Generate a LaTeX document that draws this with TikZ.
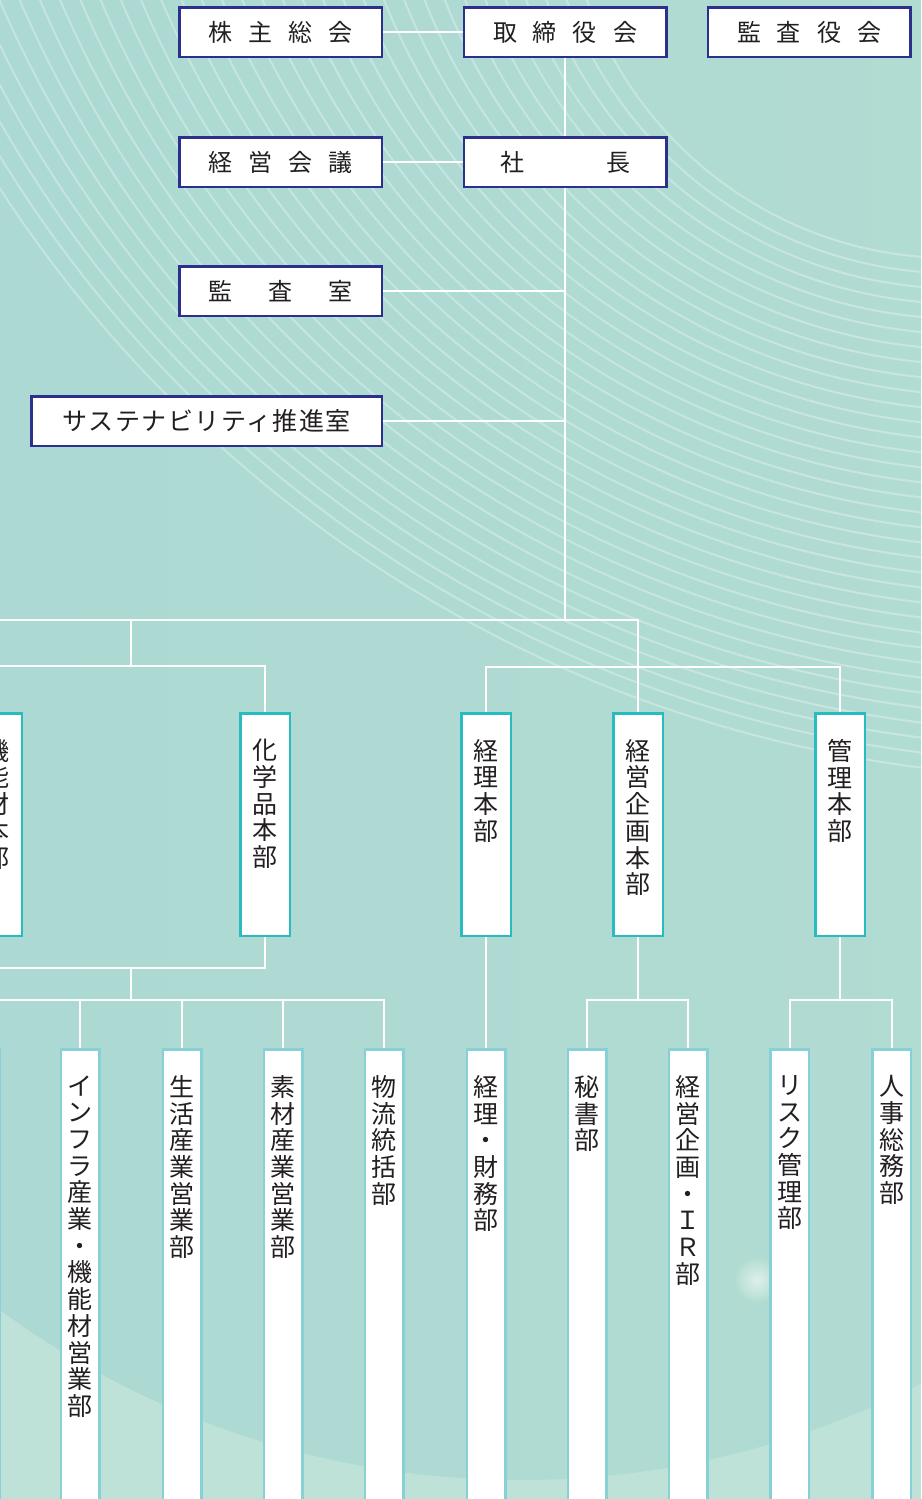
\documentclass[tikz,border=0pt]{standalone}
\usepackage{fontspec}
\setmainfont{Noto Sans CJK JP}
\definecolor{navy}{RGB}{44,48,140}
\definecolor{tealA}{RGB}{40,188,193}
\definecolor{tealB}{RGB}{134,208,214}
\definecolor{bgA}{RGB}{170,216,211}
\definecolor{bgB}{RGB}{180,221,210}
\definecolor{bgL}{RGB}{190,226,216}
\definecolor{ink}{RGB}{35,31,32}
\newcommand\jgap[1]{\hspace{#1pt}}
\tikzset{
 topbox/.style={draw=navy, line width=2.5pt, fill=white, minimum width=202.5pt, minimum height=49.5pt, inner sep=0pt, text=ink, font=\fontsize{24pt}{28pt}\selectfont},
 hqbox/.style={draw=tealA, line width=2.5pt, fill=white, minimum width=49.5pt, minimum height=222.5pt, inner sep=0pt},
 deptbox/.style={draw=tealB, line width=2.5pt, fill=white, minimum width=38.5pt, minimum height=520pt, inner sep=0pt, anchor=north},
 vlabel/.style={anchor=north, align=center, inner sep=0pt, text=ink, yshift=-27pt, font=\fontsize{25pt}{26.7pt}\selectfont},
 conn/.style={draw=white, line width=2pt},
 arcline/.style={draw=white, draw opacity=0.3, line width=2pt},
}
\begin{document}
\begin{tikzpicture}[x=1pt,y=-1pt]
\useasboundingbox (0,0) rectangle (921,1499);
\begin{scope}
\clip (0,0) rectangle (921,1499);
% background
\fill[bgL] (0,0) rectangle (921,1499);
\shade[left color=bgA, right color=bgB] (520,600) circle[radius=880pt];
\shade[inner color=white!55!bgB, outer color=bgB] (757,1280) circle[radius=22pt];
\foreach \i in {0,...,34}{
  \pgfmathsetmacro\t{\i/34}
  \pgfmathsetmacro\cx{952+134*\t}
  \pgfmathsetmacro\cy{-129-388*\t}
  \pgfmathsetmacro\rr{387+908*\t}
  \draw[arcline] (\cx,\cy) circle[radius=\rr pt];
}
% top boxes
\node[topbox] (kabunushi) at (280.5,32) {株\jgap{16}主\jgap{16}総\jgap{16}会};
\node[topbox] (torishimari) at (565,32) {取\jgap{16}締\jgap{16}役\jgap{16}会};
\node[topbox] (kansayaku) at (809,32) {監\jgap{16}査\jgap{16}役\jgap{16}会};
\node[topbox] (keieikaigi) at (280.5,162) {経\jgap{16}営\jgap{16}会\jgap{16}議};
\node[topbox] (shacho) at (565,162) {社\jgap{82}長};
\node[topbox] (kansa) at (280.5,291) {監\jgap{36}査\jgap{36}室};
\node[topbox, minimum width=350.5pt, font=\fontsize{25pt}{28pt}\selectfont\addfontfeatures{LetterSpace=6}] (sustain) at (206.5,421) {サステナビリティ推進室};
% headquarters
\node[hqbox, label={[vlabel]north:{機\\能\\材\\本\\部}}] (kinou) at (-3,824.5) {};
\node[hqbox, label={[vlabel]north:{化\\学\\品\\本\\部}}] (kagaku) at (265,824.5) {};
\node[hqbox, label={[vlabel]north:{経\\理\\本\\部}}] (keiri) at (486,824.5) {};
\node[hqbox, label={[vlabel]north:{経\\営\\企\\画\\本\\部}}] (keikaku) at (638,824.5) {};
\node[hqbox, label={[vlabel]north:{管\\理\\本\\部}}] (kanri) at (840,824.5) {};
% departments
\node[deptbox] (d0) at (-20,1048.25) {};
\node[deptbox, label={[vlabel]north:{イ\\ン\\フ\\ラ\\産\\業\\・\\機\\能\\材\\営\\業\\部}}] (infra) at (80,1048.25) {};
\node[deptbox, label={[vlabel]north:{生\\活\\産\\業\\営\\業\\部}}] (seikatsu) at (182,1048.25) {};
\node[deptbox, label={[vlabel]north:{素\\材\\産\\業\\営\\業\\部}}] (sozai) at (283,1048.25) {};
\node[deptbox, label={[vlabel]north:{物\\流\\統\\括\\部}}] (butsuryu) at (384,1048.25) {};
\node[deptbox, label={[vlabel]north:{経\\理\\・\\財\\務\\部}}] (zaimu) at (486,1048.25) {};
\node[deptbox, label={[vlabel]north:{秘\\書\\部}}] (hisho) at (587,1048.25) {};
\node[deptbox, label={[vlabel]north:{経\\営\\企\\画\\・\\Ｉ\\Ｒ\\部}}] (ir) at (688,1048.25) {};
\node[deptbox, label={[vlabel]north:{リ\\ス\\ク\\管\\理\\部}}] (risk) at (789.5,1048.25) {};
\node[deptbox, label={[vlabel]north:{人\\事\\総\\務\\部}}] (jinji) at (891.5,1048.25) {};
% coordinates
\coordinate (hub) at (565,620);
\coordinate (farleft) at (-40,620);
\coordinate (j1) at (131,620);
\coordinate (leftbar) at (131,666);
\coordinate (rightbar) at (638,667);
\coordinate (lbar1) at (131,968);
\coordinate (lbar2) at (131,1000);
\coordinate (kbar) at (638,1000);
\coordinate (mbar) at (840,1000);
% connectors
\draw[conn] (kabunushi) -- (torishimari);
\draw[conn] (torishimari) -- (shacho);
\draw[conn] (keieikaigi) -- (shacho);
\draw[conn] (shacho) -- (hub);
\draw[conn] (kansa.east) -- (kansa.east -| shacho.south);
\draw[conn] (sustain.east) -- (sustain.east -| shacho.south);
\draw[conn] (farleft) -| (keikaku.north);
\draw[conn] (j1) -- (leftbar);
\draw[conn] (kinou.north) |- (leftbar) -| (kagaku.north);
\draw[conn] (keiri.north) |- (rightbar) -| (kanri.north);
\draw[conn] (kinou.south) |- (lbar1) -| (kagaku.south);
\draw[conn] (lbar1) -- (lbar2);
\draw[conn] (d0.north) |- (lbar2) -| (butsuryu.north);
\draw[conn] (infra.north) -- (infra.north |- lbar2);
\draw[conn] (seikatsu.north) -- (seikatsu.north |- lbar2);
\draw[conn] (sozai.north) -- (sozai.north |- lbar2);
\draw[conn] (keiri.south) -- (zaimu.north);
\draw[conn] (keikaku.south) -- (kbar);
\draw[conn] (hisho.north) |- (kbar) -| (ir.north);
\draw[conn] (kanri.south) -- (mbar);
\draw[conn] (risk.north) |- (mbar) -| (jinji.north);
\end{scope}
\end{tikzpicture}
\end{document}
